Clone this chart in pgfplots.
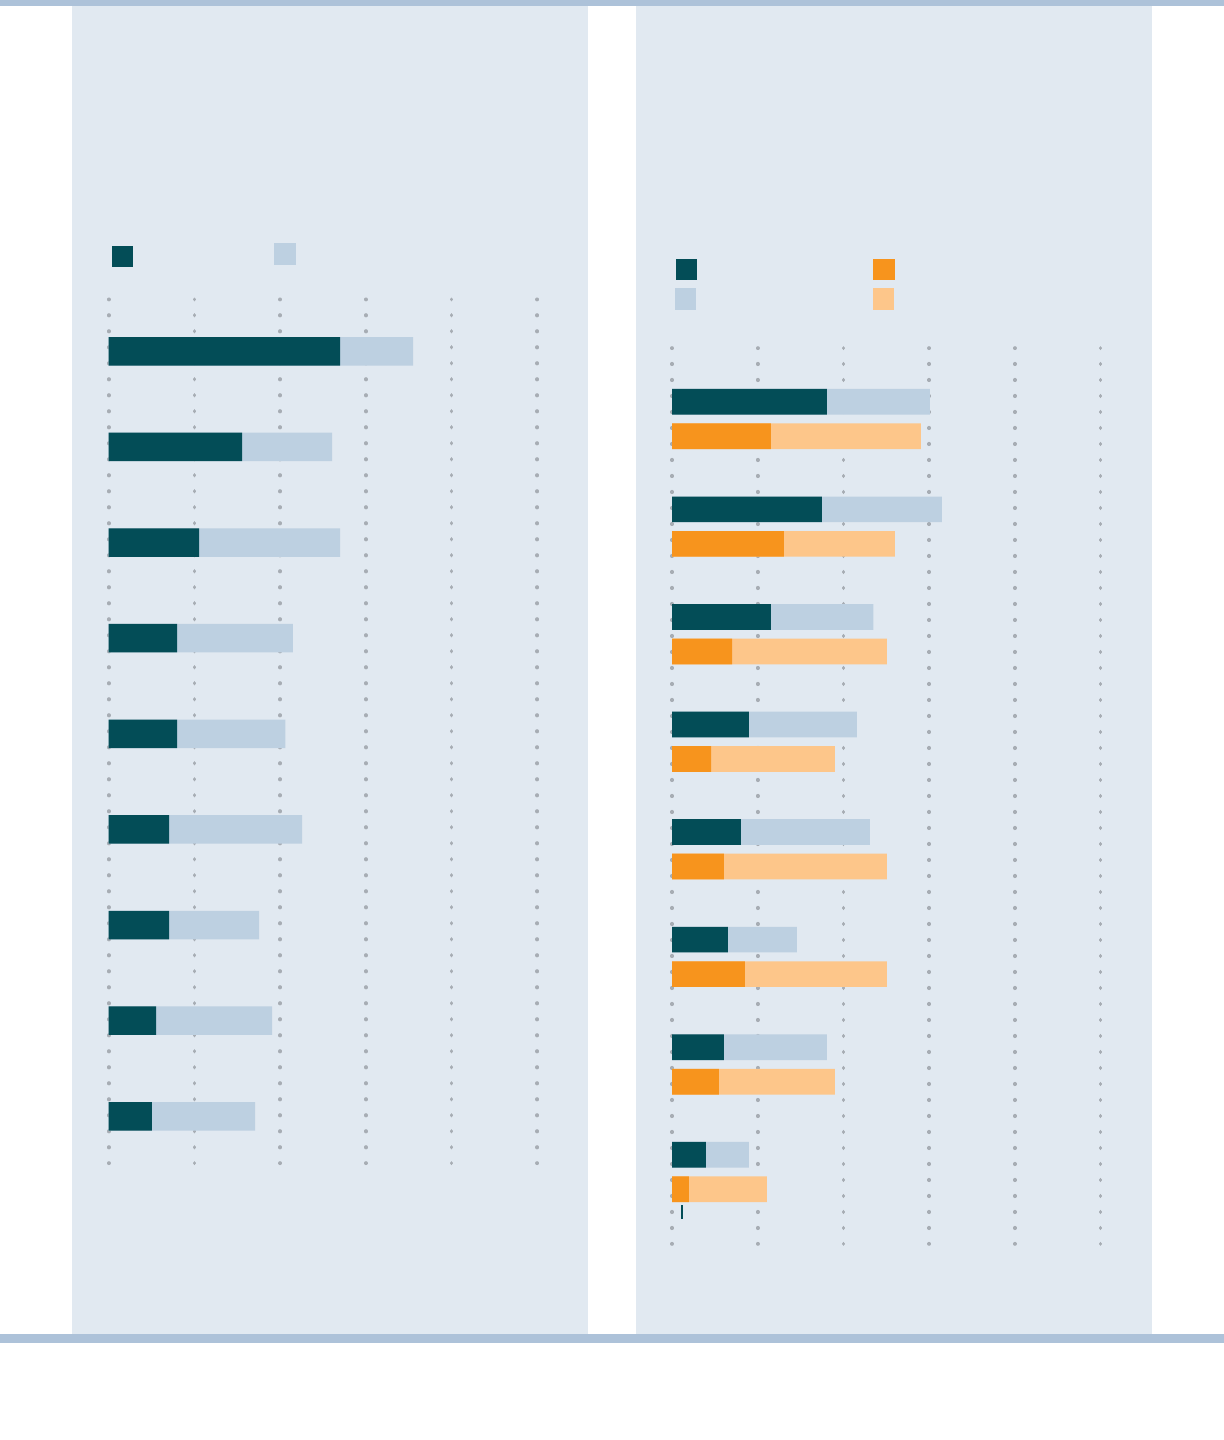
\documentclass[border=0pt]{standalone}
\usepackage{pgfplots}
\pgfplotsset{compat=1.18}
\definecolor{teal1}{HTML}{034D57}
\definecolor{lblue}{HTML}{BDD0E1}
\definecolor{orng}{HTML}{F7941D}
\definecolor{lorng}{HTML}{FDC68A}
\definecolor{panel}{HTML}{E1E9F1}
\definecolor{band}{HTML}{ADC2D9}
\definecolor{dotc}{HTML}{A7ADB4}
\pgfplotsset{
  dotaxis/.style={
    scale only axis, width=214.3pt,
    xmin=0, xmax=50, enlargelimits=false, clip=false,
    axis line style={draw=none}, tick style={draw=none},
    xtick={0,10,20,30,40,50}, xticklabels={}, ytick=\empty,
    xmajorgrids,
    major grid style={draw=dotc, line width=1.8pt, line cap=round, dash pattern=on 0.3pt off 7.7pt, dash phase=0.15pt},
    xbar, bar shift=0pt,
  }
}
\begin{document}
\begin{tikzpicture}
\fill[white] (0,0) rectangle (612pt,720pt);
\fill[panel] (36pt,53pt) rectangle (294pt,720pt);
\fill[panel] (318pt,53pt) rectangle (576pt,720pt);
\fill[band] (0,716.75pt) rectangle (612pt,720pt);
\fill[band] (0,48.35pt) rectangle (612pt,53pt);
% legend keys
\fill[teal1] (56pt,597pt) rectangle (66.5pt,586.5pt);
\fill[lblue] (137pt,598.5pt) rectangle (148pt,587.6pt);
\fill[teal1] (338pt,590.5pt) rectangle (348.5pt,580pt);
\fill[lblue] (337.4pt,576pt) rectangle (348pt,565pt);
\fill[orng] (436.5pt,590.5pt) rectangle (447.5pt,580pt);
\fill[lorng] (436.5pt,576pt) rectangle (447pt,565pt);

% left panel
\begin{axis}[dotaxis, at={(54.35pt,138.35pt)}, anchor=south west,
  height=432pt, ymin=0.5085, ymax=9.5438, bar width=14.25pt]
\addplot[fill=lblue, draw=none] coordinates {
 (35.5,9) (26.07,8) (27.0,7) (21.5,6) (20.6,5) (22.56,4) (17.54,3) (19.06,2) (17.08,1)};
\addplot[fill=teal1, draw=none] coordinates {
 (27.0,9) (15.56,8) (10.54,7) (7.97,6) (7.97,5) (7.04,4) (7.04,3) (5.52,2) (5.05,1)};
\end{axis}

% right panel
\begin{axis}[dotaxis, at={(336pt,98pt)}, anchor=south west,
  height=448pt, ymin=0.331, ymax=8.6605, bar width=12.85pt]
\addplot[fill=lblue, draw=none] coordinates {
 (30.08,8.1604) (31.48,7.1604) (23.5,6.1604) (21.57,5.1604) (23.09,4.1604) (14.57,3.1604) (18.07,2.1604) (8.98,1.1604)};
\addplot[fill=teal1, draw=none] coordinates {
 (18.07,8.1604) (17.49,7.1604) (11.54,6.1604) (8.98,5.1604) (8.04,4.1604) (6.53,3.1604) (6.06,2.1604) (3.96,1.1604)};
\addplot[fill=lorng, draw=none] coordinates {
 (29.03,7.8396) (26.0,6.8396) (25.07,5.8396) (19.0,4.8396) (25.07,3.8396) (25.07,2.8396) (19.0,1.8396) (11.08,0.8396)};
\addplot[fill=orng, draw=none] coordinates {
 (11.54,7.8396) (13.06,6.8396) (7.0,5.8396) (4.55,4.8396) (6.06,3.8396) (8.51,2.8396) (5.48,1.8396) (1.98,0.8396)};
\addplot[sharp plot, draw=teal1, line width=1pt, forget plot] coordinates {(1.17,0.5634) (1.17,0.6936)};
\end{axis}
\pgfresetboundingbox
\useasboundingbox (0,0) rectangle (612pt,720pt);
\end{tikzpicture}
\end{document}
